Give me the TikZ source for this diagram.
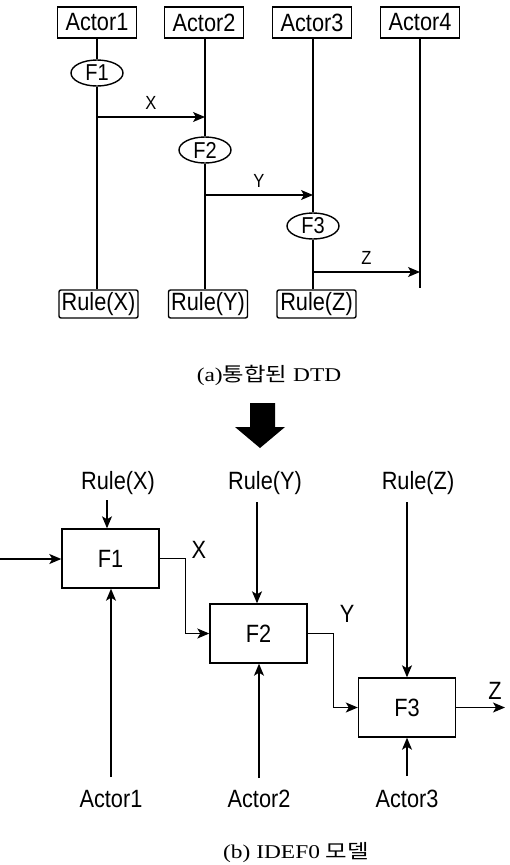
\documentclass[tikz,border=0pt]{standalone}
\usepackage{fontspec}
\setmainfont{Liberation Sans}[FakeStretch=0.87]
\newfontfamily\capfont{Liberation Serif}
\newfontfamily\kr{Noto Sans CJK KR}
\usetikzlibrary{arrows.meta,shapes.geometric}
\newcommand{\wide}[1]{\scalebox{1.2}[1]{#1}}
\begin{document}
\begin{tikzpicture}[x=1pt,y=-1pt,
  line width=1.2pt,
  arr/.style={-{Stealth[length=12pt,width=10pt,inset=3pt]}},
  actorbox/.style={draw,line width=1.4pt,minimum width=79pt,minimum height=31pt,inner sep=0pt,font=\fontsize{25}{27}\selectfont},
  rulebox/.style={draw,line width=1.4pt,rounded corners=2pt,minimum width=79pt,minimum height=28pt,inner sep=0pt,font=\fontsize{25}{27}\selectfont},
  fell/.style={draw,ellipse,fill=white,line width=1.4pt,minimum width=52pt,minimum height=26pt,inner sep=0pt,font=\fontsize{23}{25}\selectfont},
  small/.style={font=\fontsize{19}{21}\selectfont},
  fbox/.style={draw,line width=1.4pt,minimum width=97pt,minimum height=59pt,inner sep=0pt,font=\fontsize{25}{27}\selectfont},
  lbl/.style={inner sep=0pt,font=\fontsize{25}{27}\selectfont},
  captext/.style={inner sep=0pt,font=\fontsize{19.5}{22}\capfont}
]
\useasboundingbox (0,0) rectangle (509,865);
% ---------- (a) ----------
\node[actorbox] (a1) at (97,22.5) {Actor1};
\node[actorbox] (a2) at (204,22.5) {Actor2};
\node[actorbox] (a3) at (312,22.5) {Actor3};
\node[actorbox] (a4) at (420,22.5) {Actor4};
\node[fell] (f1) at (97,73) {F1};
\node[fell] (f2) at (205,150) {F2};
\node[fell] (f3) at (313,226) {F3};
\node[rulebox] (r1) at (98.5,304) {Rule(X)};
\node[rulebox] (r2) at (208,304) {Rule(Y)};
\node[rulebox] (r3) at (316.5,304) {Rule(Z)};
\coordinate (e4) at (420,288);
\draw (f1.north |- a1.south) -- (f1);
\draw (f1) -- (f1 |- r1.north);
\draw (f2 |- a2.south) -- (f2);
\draw (f2) -- (f2 |- r2.north);
\draw (f3 |- a3.south) -- (f3);
\draw (f3) -- (f3 |- r3.north);
\draw (a4.south) -- (e4);
\coordinate (x1) at (97,117);
\coordinate (y1) at (205,195);
\coordinate (z1) at (313,272);
\draw[arr] (x1) -- (x1 -| f2.center) node[midway,above=4pt,small] {X};
\draw[arr] (y1) -- (y1 -| f3.center) node[midway,above=4pt,small] {Y};
\draw[arr] (z1) -- (z1 -| e4) node[midway,above=4pt,small] {Z};
\node[captext] (capa) at (269,375) {\wide{(a){\kr 통합된} DTD}};
% big arrow
\fill (250,403) -- (275,403) -- (275,427) -- (285,427) -- (260,448) -- (235,427) -- (250,427) -- cycle;
% ---------- (b) ----------
\node[fbox] (b1) at (110.5,558.5) {F1};
\node[fbox] (b2) at (258.5,633.5) {F2};
\node[fbox] (b3) at (407,707.5) {F3};
\node[lbl] (lx) at (118,483) {Rule(X)};
\node[lbl] (ly) at (265,483) {Rule(Y)};
\node[lbl] (lz) at (418,483) {Rule(Z)};
\node[lbl] (c1) at (111,799) {Actor1};
\node[lbl] (c2) at (259,799) {Actor2};
\node[lbl] (c3) at (407,799) {Actor3};
\coordinate (rx) at (107,500);
\coordinate (ry) at (257,502);
\coordinate (rz) at (407,502);
\draw[arr] (rx) -- (rx |- b1.north);
\draw[arr] (ry) -- (ry |- b2.north);
\draw[arr] (rz) -- (rz |- b3.north);
\coordinate (m1) at (111,777);
\coordinate (m2) at (259,778);
\coordinate (m3) at (407,776);
\draw[arr] (m1) -- (m1 |- b1.south);
\draw[arr] (m2) -- (m2 |- b2.south);
\draw[arr] (m3) -- (m3 |- b3.south);
\coordinate (in) at (0,559);
\draw[arr] (in) -- (b1.west |- in);
\draw[arr] (b1.east) -- ++(26,0) |- (b2.west);
\draw[arr] (b2.east) -- ++(26,0) |- (b3.west);
\coordinate (zout) at (505,707.5);
\draw[arr] (b3.east) -- (zout);
\node[lbl] (lX) at (199,550) {X};
\node[lbl] (lY) at (347,614) {Y};
\node[lbl] (lZ) at (495,691) {Z};
\node[captext] (capb) at (296,853) {\wide{(b) IDEF0 {\kr 모델}}};
\end{tikzpicture}
\end{document}
